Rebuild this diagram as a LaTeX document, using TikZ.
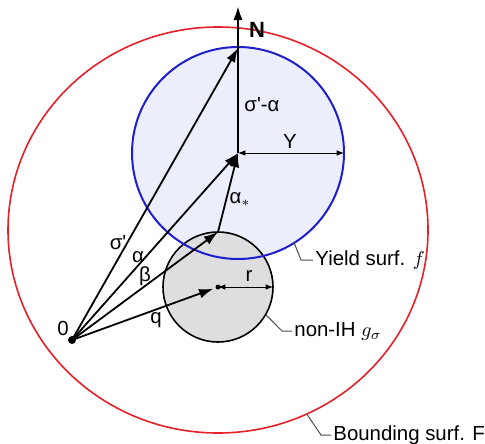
\documentclass[tikz,border=0pt]{standalone}
\usepackage{fontspec}
\setmainfont{Liberation Sans}
\usetikzlibrary{arrows.meta}

\definecolor{boundred}{RGB}{230,32,40}
\definecolor{yieldblue}{RGB}{30,30,205}
\definecolor{yieldfill}{RGB}{236,238,251}
\definecolor{memfill}{RGB}{222,222,224}

\begin{document}
\begin{tikzpicture}[
    x=0.5pt, y=-0.5pt,
    every node/.style={inner sep=1pt, font=\fontsize{10.2}{12}\selectfont},
    arrow/.style={-{Latex[length=2.5mm,width=1.7mm]}, line width=0.9pt},
    dim/.style={{Latex[length=1.3mm,width=1mm]}-{Latex[length=1.3mm,width=1mm]}, line width=0.5pt},
    leader/.style={line width=0.5pt, black!70}
]
\useasboundingbox (0,0) rectangle (485,443);

\coordinate (R) at (218,230);
\coordinate (A) at (238,153);
\coordinate (G) at (218,287);
\coordinate (O) at (72,340);
\coordinate (T) at (238,48);
\coordinate (B) at (218,232);
\coordinate (Ntop) at (238,6);
\coordinate (Yend) at (344,153);
\coordinate (rend) at (273,287);

\draw[boundred, line width=0.8pt] (R) ellipse [x radius=210, y radius=203];
\fill[yieldfill] (A) circle [radius=106];
\filldraw[fill=memfill, line width=0.8pt] (G) circle [radius=55];
\draw[yieldblue, line width=1pt] (A) circle [radius=106];

\draw[arrow] (O) -- (T);
\draw[arrow] (O) -- (A);
\draw[arrow] (O) -- (B);
\draw[arrow, shorten >=2.5pt] (O) -- (G);
\draw[arrow] (B) -- (A);
\draw[arrow, line width=1.3pt] (A) -- (Ntop);
\draw[dim] (A) -- (Yend);
\draw[dim] (G) -- (rend);
\fill (O) circle [radius=4];
\fill (G) circle [radius=2.5];

\node[font=\fontsize{11}{12}\selectfont\bfseries] (Nlbl) at (257,30) {N};
\node (sigmaalpha) at (262,105) {σ\textquotesingle-α};
\node (Ylbl) at (290,141) {Y};
\node (alphastar) at (240,200) {α$_*$};
\node (sigmap) at (118,243) {σ\textquotesingle};
\node (alpha) at (138,257) {α};
\node (beta) at (145,276) {β};
\node (qlbl) at (156,320) {q};
\node (zero) at (63,328) {0};
\node (rlbl) at (249,276) {r};

\node[anchor=west] (yield) at (313,260) {Yield surf. $f$};
\node[anchor=west] (memory) at (292,331) {non-IH $g_\sigma$};
\node[anchor=west] (bound) at (331,435) {Bounding surf. F};

\coordinate (yl) at ([shift={(A)}]58:106);
\coordinate (ml) at ([shift={(G)}]30:55);
\coordinate (bl) at ([shift={(R)}]65:210 and 203);
\draw[leader] (yl) -- ([xshift=-6pt]yield.west) -- (yield.west);
\draw[leader] (ml) -- ([xshift=-5pt]memory.west) -- (memory.west);
\draw[leader] (bl) -- ([xshift=-5pt]bound.west) -- (bound.west);
\end{tikzpicture}
\end{document}
